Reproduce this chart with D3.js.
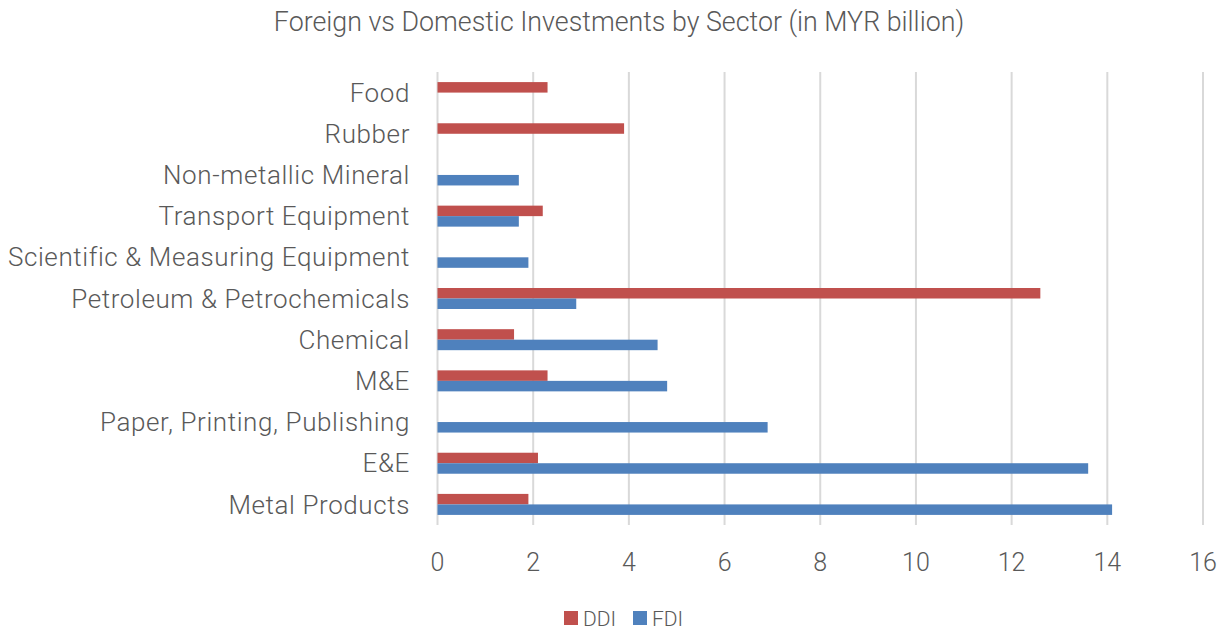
<!DOCTYPE html>
<html><head><meta charset="utf-8">
<script src="https://cdn.jsdelivr.net/npm/d3@7"></script>
<style>body{margin:0;background:#fff;} text{font-family:Roboto, sans-serif;font-weight:300;fill:#595959;}</style>
</head><body><svg id="c" width="1227" height="630"></svg>
<script>
const categories = ["Food","Rubber","Non-metallic Mineral","Transport Equipment","Scientific & Measuring Equipment","Petroleum & Petrochemicals","Chemical","M&E","Paper, Printing, Publishing","E&E","Metal Products"];
const ddi = [2.3, 3.9, null, 2.2, null, 12.6, 1.6, 2.3, null, 2.1, 1.9];
const fdi = [null, null, 1.7, 1.7, 1.9, 2.9, 4.6, 4.8, 6.9, 13.6, 14.1];
const seriesNames = ["DDI","FDI"];
const colors = ["#C0504D","#4F81BD"];
const xTicks = [0,2,4,6,8,10,12,14,16];

const svg = d3.select("#c");
const x = d3.scaleLinear().domain([0,16]).range([437.5,1203]);
const y = d3.scaleBand().domain(categories).range([72,525]).paddingInner(0.49).paddingOuter(0.245);
const sub = d3.scaleBand().domain(seriesNames).range([0,y.bandwidth()]);

svg.append("text").attr("x",619).attr("y",31).attr("text-anchor","middle").style("font-size","26.8px").text("Foreign vs Domestic Investments by Sector (in MYR billion)");

svg.append("g").selectAll("line").data(xTicks).join("line")
  .attr("x1",d=>x(d)).attr("x2",d=>x(d)).attr("y1",72).attr("y2",525)
  .attr("stroke","#d9d9d9").attr("stroke-width",2);

const data = [ddi, fdi];
data.forEach((vals,si)=>{
  svg.append("g").selectAll("rect").data(categories.map((c,i)=>({c,v:vals[i]})).filter(d=>d.v!=null)).join("rect")
    .attr("x",x(0)).attr("y",d=>y(d.c)+sub(seriesNames[si]))
    .attr("width",d=>x(d.v)-x(0)).attr("height",sub.bandwidth())
    .attr("fill",colors[si]);
});

svg.append("g").selectAll("text").data(categories).join("text")
  .attr("x",410).attr("y",d=>y(d)+y.bandwidth()/2).attr("dy","0.35em")
  .attr("text-anchor","end").style("font-size","26px").style("letter-spacing","0.6px").text(d=>d);

svg.append("g").selectAll("text").data(xTicks).join("text")
  .attr("x",d=>x(d)).attr("y",571).attr("text-anchor","middle").style("font-size","25px").text(d=>d);

const leg = svg.append("g");
const legX = [564, 633];
seriesNames.forEach((s,i)=>{
  leg.append("rect").attr("x",legX[i]).attr("y",611).attr("width",14).attr("height",14).attr("fill",colors[i]);
  leg.append("text").attr("x",legX[i]+19).attr("y",626).style("font-size","21px").text(s);
});
</script></body></html>
